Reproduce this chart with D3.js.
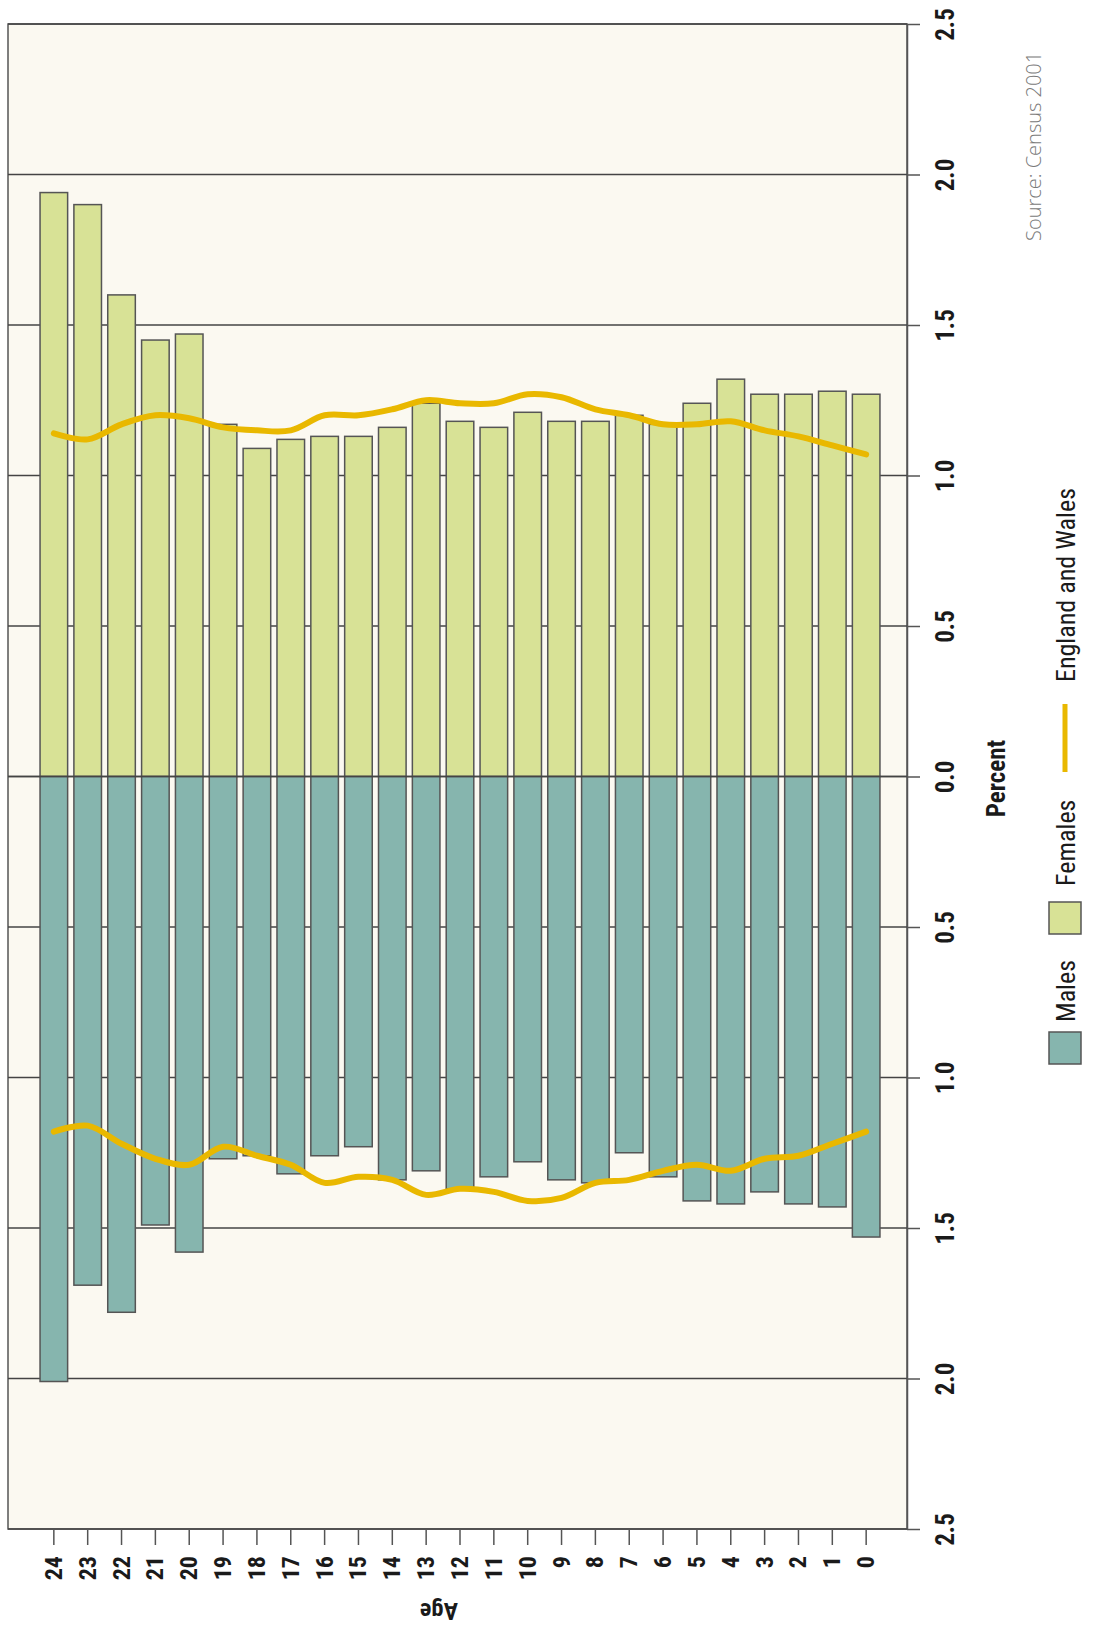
<!DOCTYPE html>
<html>
<head>
<meta charset="utf-8">
<script src="https://cdn.jsdelivr.net/npm/d3@7"></script>
<style>
  html, body { margin: 0; padding: 0; background: #ffffff; }
  svg { display: block; }
  .cond { font-family: "Liberation Sans Narrow", "Arial Narrow", "Roboto Condensed", "Liberation Sans", sans-serif; }
</style>
</head>
<body>
<svg id="chart" width="1096" height="1632"></svg>
<script>
// ---- data ----
const ages = [24,23,22,21,20,19,18,17,16,15,14,13,12,11,10,9,8,7,6,5,4,3,2,1,0];
const females = [1.94,1.90,1.60,1.45,1.47,1.17,1.09,1.12,1.13,1.13,1.16,1.24,1.18,1.16,1.21,1.18,1.18,1.20,1.17,1.24,1.32,1.27,1.27,1.28,1.27];
const males   = [2.01,1.69,1.78,1.49,1.58,1.27,1.26,1.32,1.26,1.23,1.34,1.31,1.37,1.33,1.28,1.34,1.35,1.25,1.33,1.41,1.42,1.38,1.42,1.43,1.53];
const ewFemales = [1.14,1.12,1.17,1.20,1.19,1.16,1.15,1.15,1.20,1.20,1.22,1.25,1.24,1.24,1.27,1.26,1.22,1.20,1.17,1.17,1.18,1.15,1.13,1.10,1.07];
const ewMales   = [1.18,1.16,1.22,1.27,1.29,1.23,1.26,1.29,1.35,1.33,1.34,1.39,1.37,1.38,1.41,1.40,1.35,1.34,1.31,1.29,1.31,1.27,1.26,1.22,1.18];
const percentTicks = [-2.5,-2.0,-1.5,-1.0,-0.5,0,0.5,1.0,1.5,2.0,2.5];
const legendItems = ["Males","Females","England and Wales"];
const sourceText = "Source: Census 2001";

// ---- layout ----
const plot = {left: 8, right: 907, top: 24, bottom: 1529};
const colors = {bg: "#fbf9f1", female: "#d8e296", male: "#86b5ae", line: "#e9b800", stroke: "#555555"};

const svg = d3.select("#chart");

const x = d3.scaleBand().domain(ages).range([37, 883]).paddingInner(0.185).paddingOuter(0.09);
const y = d3.scaleLinear().domain([-2.5, 2.5]).range([plot.bottom, plot.top]);

// plot background + frame
svg.append("rect")
  .attr("x", plot.left).attr("y", plot.top)
  .attr("width", plot.right - plot.left).attr("height", plot.bottom - plot.top)
  .attr("fill", colors.bg).attr("stroke", colors.stroke).attr("stroke-width", 1.5);

// gridlines
svg.append("g").selectAll("line").data(percentTicks).join("line")
  .attr("x1", plot.left).attr("x2", plot.right)
  .attr("y1", d => y(d)).attr("y2", d => y(d))
  .attr("stroke", "#444").attr("stroke-width", 1.3);

// bars
const rows = ages.map((a, i) => ({age: a, f: females[i], m: males[i], ewf: ewFemales[i], ewm: ewMales[i]}));
svg.append("g").selectAll("rect.f").data(rows).join("rect")
  .attr("x", d => x(d.age)).attr("width", x.bandwidth())
  .attr("y", d => y(d.f)).attr("height", d => y(0) - y(d.f))
  .attr("fill", colors.female).attr("stroke", colors.stroke).attr("stroke-width", 1.5);
svg.append("g").selectAll("rect.m").data(rows).join("rect")
  .attr("x", d => x(d.age)).attr("width", x.bandwidth())
  .attr("y", y(0)).attr("height", d => y(-d.m) - y(0))
  .attr("fill", colors.male).attr("stroke", colors.stroke).attr("stroke-width", 1.5);

// zero line on top of bars
svg.append("line").attr("x1", plot.left).attr("x2", plot.right)
  .attr("y1", y(0)).attr("y2", y(0)).attr("stroke", "#444").attr("stroke-width", 1.3);

// England and Wales lines
const cx = d => x(d.age) + x.bandwidth() / 2;
const lf = d3.line().x(cx).y(d => y(d.ewf)).curve(d3.curveCatmullRom.alpha(0.5));
const lm = d3.line().x(cx).y(d => y(-d.ewm)).curve(d3.curveCatmullRom.alpha(0.5));
[lf, lm].forEach(gen => {
  svg.append("path").attr("d", gen(rows)).attr("fill", "none")
    .attr("stroke", colors.line).attr("stroke-width", 6).attr("stroke-linecap", "round").attr("stroke-linejoin", "round");
});

// value axis (right)
const yAxis = d3.axisRight(y).tickValues(percentTicks).tickSize(13).tickSizeOuter(0)
  .tickFormat(d => Math.abs(d).toFixed(1));
const ya = svg.append("g").attr("transform", `translate(${plot.right},0)`).call(yAxis);
ya.select(".domain").attr("stroke", colors.stroke).attr("stroke-width", 1.5);
ya.selectAll(".tick line").attr("stroke", colors.stroke).attr("stroke-width", 1.5);
ya.selectAll(".tick text")
  .attr("x", null).attr("dy", null)
  .attr("transform", "translate(38,0) rotate(-90)")
  .attr("text-anchor", "middle").attr("dominant-baseline", "central")
  .attr("class", "cond").attr("font-size", 25).attr("font-weight", "bold").attr("fill", "#1a1a1a");

// age axis (bottom)
const xAxis = d3.axisBottom(x).tickSize(16).tickSizeOuter(0);
const xa = svg.append("g").attr("transform", `translate(0,${plot.bottom})`).call(xAxis);
xa.select(".domain").remove();
xa.selectAll(".tick line").attr("stroke", colors.stroke).attr("stroke-width", 1.5);
xa.selectAll(".tick text")
  .attr("y", null).attr("dy", null)
  .attr("transform", "translate(0,27) rotate(-90)")
  .attr("text-anchor", "end").attr("dominant-baseline", "central")
  .attr("class", "cond").attr("font-size", 24).attr("font-weight", "bold").attr("fill", "#1a1a1a");

// axis titles
svg.append("text").attr("class", "cond")
  .attr("transform", "translate(439,1611) rotate(180)")
  .attr("text-anchor", "middle").attr("dominant-baseline", "central")
  .attr("font-size", 24).attr("font-weight", "bold").attr("fill", "#1a1a1a").text("Age");
svg.append("text").attr("class", "cond")
  .attr("transform", `translate(996,${y(0) + 2}) rotate(-90)`)
  .attr("text-anchor", "middle").attr("dominant-baseline", "central")
  .attr("font-size", 25).attr("font-weight", "bold").attr("fill", "#1a1a1a").text("Percent");

// legend
const lg = svg.append("g");
lg.append("rect").attr("x", 1049).attr("y", 1032).attr("width", 32).attr("height", 32)
  .attr("fill", colors.male).attr("stroke", colors.stroke).attr("stroke-width", 1.5);
lg.append("text").attr("class", "cond").attr("transform", "translate(1066,1022) rotate(-90)")
  .attr("dominant-baseline", "central").attr("font-size", 26).attr("fill", "#1a1a1a").text(legendItems[0]);
lg.append("rect").attr("x", 1049).attr("y", 902).attr("width", 32).attr("height", 32)
  .attr("fill", colors.female).attr("stroke", colors.stroke).attr("stroke-width", 1.5);
lg.append("text").attr("class", "cond").attr("transform", "translate(1066,886) rotate(-90)")
  .attr("dominant-baseline", "central").attr("font-size", 26).attr("fill", "#1a1a1a").text(legendItems[1]);
lg.append("line").attr("x1", 1065).attr("x2", 1065).attr("y1", 772).attr("y2", 704)
  .attr("stroke", colors.line).attr("stroke-width", 5);
lg.append("text").attr("class", "cond").attr("transform", "translate(1066,682) rotate(-90)")
  .attr("dominant-baseline", "central").attr("font-size", 26).attr("fill", "#1a1a1a").text(legendItems[2]);

// source
svg.append("text").attr("transform", "translate(1033,241) rotate(-90)")
  .attr("dominant-baseline", "central")
  .attr("font-family", "'Open Sans', 'Noto Sans', sans-serif").attr("font-weight", 300)
  .attr("font-size", 20).attr("fill", "#7a7a7a").text(sourceText);
</script>
</body>
</html>
